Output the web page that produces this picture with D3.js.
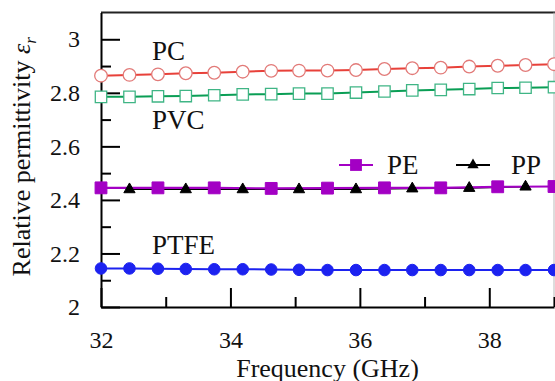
<!DOCTYPE html>
<html>
<head>
<meta charset="utf-8">
<script src="https://cdn.jsdelivr.net/npm/d3@7"></script>
<style>
  html, body { margin: 0; padding: 0; background: #fff; }
  svg text { font-family: 'Liberation Serif', 'Times New Roman', Times, serif; }
</style>
</head>
<body>
<svg id="chart" width="555" height="381"></svg>
<script>
// frequency points (GHz)
const freq = [32, 32.44, 32.88, 33.31, 33.75, 34.19, 34.63, 35.06, 35.5,
              35.94, 36.38, 36.81, 37.25, 37.69, 38.13, 38.56, 39];

const pcValues = [2.864, 2.867, 2.869, 2.873, 2.875, 2.879, 2.882, 2.883, 2.883,
                  2.885, 2.889, 2.892, 2.894, 2.898, 2.901, 2.904, 2.907];
const pvcValues = [2.785, 2.785, 2.787, 2.788, 2.791, 2.794, 2.795, 2.797, 2.797,
                   2.801, 2.805, 2.809, 2.811, 2.814, 2.818, 2.819, 2.821];
const ptfeValues = [2.144, 2.144, 2.143, 2.142, 2.141, 2.141, 2.140, 2.139, 2.138,
                    2.138, 2.138, 2.138, 2.138, 2.138, 2.138, 2.138, 2.138];
// PE at even points, PP at odd points
const peValues = [2.445, 2.445, 2.445, 2.443, 2.444, 2.445, 2.445, 2.449, 2.450];
const ppValues = [2.439, 2.439, 2.439, 2.439, 2.439, 2.442, 2.444, 2.449];

const xTicks = [32, 34, 36, 38];
const xMinor = [33, 35, 37, 39];
const yTicks = [2, 2.2, 2.4, 2.6, 2.8, 3];
const yMinor = [2.1, 2.3, 2.5, 2.7, 2.9];

const FONT = "'Liberation Serif', 'Times New Roman', Times, serif";

const svg = d3.select('#chart');
const margin = { top: 12.5, right: 1, bottom: 74, left: 101 };
const width = 555, height = 381;

const x = d3.scaleLinear().domain([32, 39]).range([margin.left, width - margin.right]);
const y = d3.scaleLinear().domain([2, 3.1]).range([height - margin.bottom, margin.top]);

const colors = {
  pc: '#e8413a', pcMark: '#e27a78',
  pvc: '#0a9e55', pvcMark: '#3fb585',
  pe: '#a300c4', pp: '#000000', ptfe: '#1c22f0'
};

const pts = vals => vals.map((v, i) => ({ f: freq[i], v: v }));
const pcData = pts(pcValues);
const pvcData = pts(pvcValues);
const ptfeData = pts(ptfeValues);
const peData = peValues.map((v, i) => ({ f: freq[i * 2], v: v }));
const ppData = ppValues.map((v, i) => ({ f: freq[i * 2 + 1], v: v }));

// frame: top and right
svg.append('line')
  .attr('x1', margin.left).attr('x2', width)
  .attr('y1', margin.top).attr('y2', margin.top)
  .attr('stroke', '#222').attr('stroke-width', 2);
svg.append('line')
  .attr('x1', width - margin.right).attr('x2', width - margin.right)
  .attr('y1', margin.top).attr('y2', height - margin.bottom)
  .attr('stroke', '#bbb').attr('stroke-width', 1);

// axes (ticks point inward)
function styleAxis(g) {
  g.attr('font-family', FONT).attr('font-size', 24);
  g.select('.domain').attr('stroke', '#000').attr('stroke-width', 2);
  g.selectAll('.tick line').attr('stroke', '#000').attr('stroke-width', 2);
  g.selectAll('.tick text').attr('fill', '#111');
}

svg.append('g')
  .attr('transform', `translate(0,${height - margin.bottom})`)
  .call(d3.axisBottom(x).tickValues(xMinor).tickSize(-10).tickFormat('').tickSizeOuter(0))
  .call(g => g.select('.domain').remove())
  .call(g => g.selectAll('.tick line').attr('stroke', '#000').attr('stroke-width', 2));

svg.append('g')
  .attr('transform', `translate(0,${height - margin.bottom})`)
  .call(d3.axisBottom(x).tickValues(xTicks).tickSize(-19).tickSizeOuter(0).tickPadding(24)
    .tickFormat(d3.format('d')))
  .call(styleAxis);

svg.append('g')
  .attr('transform', `translate(${margin.left},0)`)
  .call(d3.axisLeft(y).tickValues(yMinor).tickSize(-10).tickFormat('').tickSizeOuter(0))
  .call(g => g.select('.domain').remove())
  .call(g => g.selectAll('.tick line').attr('stroke', '#000').attr('stroke-width', 2));

svg.append('g')
  .attr('transform', `translate(${margin.left},0)`)
  .call(d3.axisLeft(y).tickValues(yTicks).tickSize(-19).tickSizeOuter(0).tickPadding(21)
    .tickFormat(d => String(d)))
  .call(styleAxis);

// axis titles
svg.append('text')
  .attr('x', (margin.left + width - margin.right) / 2)
  .attr('y', 377)
  .attr('text-anchor', 'middle')
  .attr('fill', '#111')
  .attr('font-family', FONT)
  .attr('font-size', 26)
  .text('Frequency (GHz)');

const yTitle = svg.append('text')
  .attr('transform', `translate(30,${(margin.top + height - margin.bottom) / 2 - 3}) rotate(-90)`)
  .attr('text-anchor', 'middle')
  .attr('fill', '#111')
  .attr('font-family', FONT)
  .attr('font-size', 26);
yTitle.append('tspan').text('Relative permittivity ');
yTitle.append('tspan').attr('font-style', 'italic').text('ε');
yTitle.append('tspan').attr('font-style', 'italic').attr('font-size', 17)
  .attr('dy', 6).text('r');

// lines
const line = d3.line().x(d => x(d.f)).y(d => y(d.v));

function drawLine(data, color, w) {
  svg.append('path')
    .datum(data)
    .attr('fill', 'none')
    .attr('stroke', color)
    .attr('stroke-width', w)
    .attr('d', line);
}

drawLine(pcData, colors.pc, 2);
drawLine(pvcData, colors.pvc, 2);
drawLine(ppData, colors.pp, 1.2);
drawLine(peData, colors.pe, 2.2);
drawLine(ptfeData, colors.ptfe, 2);

// markers
function drawMarkers(data, type, size, fill, stroke, sw) {
  svg.append('g')
    .selectAll('path')
    .data(data)
    .join('path')
    .attr('transform', d => `translate(${x(d.f)},${y(d.v)})`)
    .attr('d', d3.symbol().type(type).size(size))
    .attr('fill', fill)
    .attr('stroke', stroke)
    .attr('stroke-width', sw);
}

drawMarkers(pcData, d3.symbolCircle, 125, '#fff', colors.pcMark, 1.3);
drawMarkers(pvcData, d3.symbolSquare, 130, '#fff', colors.pvcMark, 1.3);
drawMarkers(peData, d3.symbolSquare, 140, colors.pe, colors.pe, 1);
drawMarkers(ppData, d3.symbolTriangle, 55, colors.pp, colors.pp, 1);
drawMarkers(ptfeData, d3.symbolCircle, 105, colors.ptfe, colors.ptfe, 1);

// series labels
const labels = [
  { t: 'PC', y: 60 },
  { t: 'PVC', y: 128.5 },
  { t: 'PTFE', y: 253.5 }
];
svg.append('g').selectAll('text')
  .data(labels)
  .join('text')
  .attr('x', 152)
  .attr('y', d => d.y)
  .attr('fill', '#111')
  .attr('font-family', FONT)
  .attr('font-size', 27)
  .text(d => d.t);

// legend
const legend = svg.append('g').attr('transform', 'translate(0,165)');
legend.append('line').attr('x1', 339).attr('x2', 373).attr('stroke', colors.pe).attr('stroke-width', 2);
legend.append('path').attr('transform', 'translate(356,0)')
  .attr('d', d3.symbol().type(d3.symbolSquare).size(140)).attr('fill', colors.pe);
legend.append('text').attr('x', 387).attr('y', 8.5).attr('fill', '#111')
  .attr('font-family', FONT).attr('font-size', 27).text('PE');
legend.append('line').attr('x1', 456).attr('x2', 490).attr('stroke', '#000').attr('stroke-width', 2);
legend.append('path').attr('transform', 'translate(473,0)')
  .attr('d', d3.symbol().type(d3.symbolTriangle).size(55)).attr('fill', '#000');
legend.append('text').attr('x', 511).attr('y', 8.5).attr('fill', '#111')
  .attr('font-family', FONT).attr('font-size', 27).text('PP');
</script>
</body>
</html>
